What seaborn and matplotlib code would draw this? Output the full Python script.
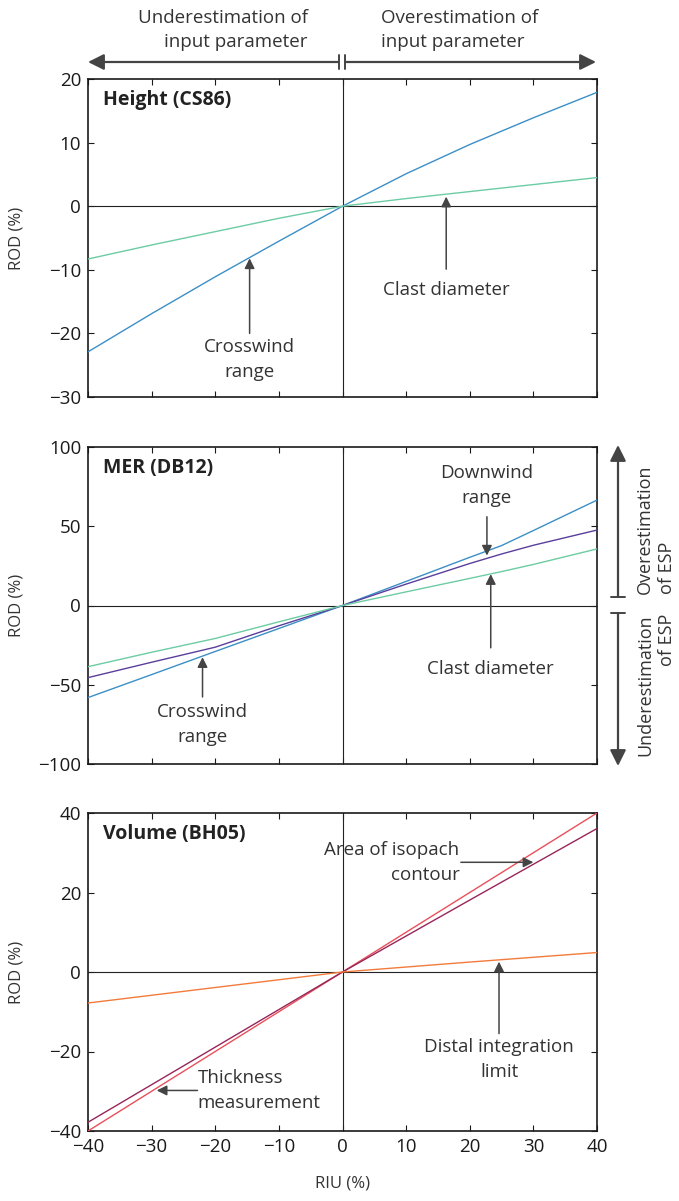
import numpy as np
import pandas as pd
import matplotlib
matplotlib.use("Agg")
import matplotlib.pyplot as plt
import seaborn as sns

# ---- data ----
height_x = [-40, -30, -20, -10, 0, 10, 20, 30, 40]
height_crosswind = [-22.9, -16.9, -11.1, -5.5, 0, 5.1, 9.7, 13.9, 17.9]
height_clast = [-8.3, -6.1, -4.0, -1.9, 0, 1.2, 2.3, 3.4, 4.5]

mer_x = [-40, -30, -20, -10, 0, 10, 20, 25, 30, 40]
mer_crosswind = [-58.1, -43.6, -29.0, -14.5, 0, 15.2, 30.4, 37.8, 47.3, 66.5]
mer_downwind = [-45.5, -35.8, -26.3, -12.8, 0, 13.5, 26.5, 32.5, 38.0, 47.6]
mer_clast = [-38.6, -29.5, -20.8, -10.3, 0, 8.6, 17.1, 21.4, 25.9, 35.7]

vol_x = [-40, -20, 0, 20, 40]
vol_thickness = [-40, -20, 0, 20, 40]
vol_isopach = [-37.8, -18.9, 0, 18.1, 36.1]
vol_distal = [-7.8, -3.9, 0, 2.5, 4.9]

x_ticks = [-40, -30, -20, -10, 0, 10, 20, 30, 40]
panels = ["Height (CS86)", "MER (DB12)", "Volume (BH05)"]
y_limits = [(-30, 20), (-100, 100), (-40, 40)]
y_ticks = [[-30, -20, -10, 0, 10, 20], [-100, -50, 0, 50, 100], [-40, -20, 0, 20, 40]]

BLUE = "#3b8fc6"
GREEN = "#6ccca3"
PURPLE = "#5a3e9c"
RED = "#e8505a"
MAROON = "#982559"
ORANGE = "#f27b3c"
TXT = "#333333"
ARR = "#444444"

sns.set_theme(style="ticks")
plt.rcParams["font.family"] = ["Open Sans", "DejaVu Sans"]

W, H = 679, 1201
fig = plt.figure(figsize=(W / 100, H / 100), dpi=100)


def fx(px):
    return px / W


def fy(py):
    return 1 - py / H


# axes boxes in pixels (left, top, right, bottom)
boxes = [(88, 79, 597, 397), (88, 447, 597, 764), (88, 813, 597, 1131)]
axes = []
for (l, t, r, b) in boxes:
    ax = fig.add_axes([fx(l), fy(b), (r - l) / W, (b - t) / H])
    axes.append(ax)

series = [
    [(height_x, height_crosswind, BLUE), (height_x, height_clast, GREEN)],
    [(mer_x, mer_crosswind, BLUE), (mer_x, mer_downwind, PURPLE), (mer_x, mer_clast, GREEN)],
    [(vol_x, vol_thickness, RED), (vol_x, vol_isopach, MAROON), (vol_x, vol_distal, ORANGE)],
]

for i, ax in enumerate(axes):
    ax.axhline(0, color="#222222", lw=0.8, zorder=1)
    ax.axvline(0, color="#222222", lw=0.8, zorder=1)
    for xs, ys, c in series[i]:
        d = pd.DataFrame({"x": xs, "y": ys})
        sns.lineplot(data=d, x="x", y="y", ax=ax, color=c, lw=1.0, zorder=3)
    ax.set_xlim(-40, 40)
    ax.set_ylim(*y_limits[i])
    ax.set_xticks(x_ticks)
    ax.set_yticks(y_ticks[i])
    ax.tick_params(direction="in", top=True, right=True, length=4, width=0.8,
                   labelsize=13.5, colors="#1a1a1a", pad=5)
    for s in ax.spines.values():
        s.set_linewidth(1.2)
        s.set_color("#1a1a1a")
    ax.set_ylabel("ROD (%)", fontsize=12, color=TXT)
    ax.yaxis.set_label_coords(-0.124, 0.5)
    if i < 2:
        ax.set_xticklabels([])
        ax.set_xlabel("")
    else:
        ax.set_xlabel("RIU (%)", fontsize=12, color=TXT)
        ax.xaxis.set_label_coords(0.5, -0.14)
    ax.text(0.03, 0.935, panels[i], transform=ax.transAxes, fontsize=14,
            fontweight="bold", color="#222222", va="center", ha="left")

ann = dict(fontsize=13.5, color=TXT, linespacing=1.5)
aprops = dict(arrowstyle="-|>", color=ARR, lw=1.1, mutation_scale=15, shrinkA=0, shrinkB=0)

# Height panel
ax = axes[0]
ax.annotate("", xy=(-14.6, -8.2), xytext=(-14.6, -20.0), arrowprops=aprops)
ax.text(-14.6, -24.1, "Crosswind\nrange", ha="center", va="center", **ann)
ax.annotate("", xy=(16.3, 1.5), xytext=(16.3, -9.9), arrowprops=aprops)
ax.text(16.3, -13.1, "Clast diameter", ha="center", va="center", **ann)

# MER panel
ax = axes[1]
ax.annotate("", xy=(22.7, 31.5), xytext=(22.7, 56.0), arrowprops=aprops)
ax.text(22.7, 75.9, "Downwind\nrange", ha="center", va="center", **ann)
ax.annotate("", xy=(23.3, 19.8), xytext=(23.3, -26.7), arrowprops=aprops)
ax.text(23.3, -39.9, "Clast diameter", ha="center", va="center", **ann)
ax.annotate("", xy=(-22.0, -32.6), xytext=(-22.0, -57.7), arrowprops=aprops)
ax.text(-22.0, -74.8, "Crosswind\nrange", ha="center", va="center", **ann)

# Volume panel
ax = axes[2]
ax.annotate("", xy=(30.0, 27.6), xytext=(18.6, 27.6), arrowprops=aprops)
ax.text(18.4, 27.6, "Area of isopach\ncontour", ha="right", va="center",
        multialignment="right", **ann)
ax.annotate("", xy=(24.6, 2.6), xytext=(24.6, -15.5), arrowprops=aprops)
ax.text(24.6, -22.0, "Distal integration\nlimit", ha="center", va="center", **ann)
ax.annotate("", xy=(-29.2, -29.8), xytext=(-22.8, -29.8), arrowprops=aprops)
ax.text(-22.8, -29.7, "Thickness\nmeasurement", ha="left", va="center",
        multialignment="left", **ann)

# top direction arrows
big = dict(arrowstyle="-|>", color=ARR, lw=1.6, mutation_scale=24, shrinkA=0, shrinkB=0)
fig.add_artist(matplotlib.patches.FancyArrowPatch((fx(339), fy(62)), (fx(88), fy(62)),
                                                  transform=fig.transFigure, **big))
fig.add_artist(matplotlib.patches.FancyArrowPatch((fx(345), fy(62)), (fx(596), fy(62)),
                                                  transform=fig.transFigure, **big))
for bx in (339, 345):
    fig.add_artist(matplotlib.lines.Line2D([fx(bx), fx(bx)], [fy(55), fy(69)],
                                           transform=fig.transFigure, color=ARR, lw=1.4))
top = dict(fontsize=13.5, color=TXT, linespacing=1.45, va="center")
fig.text(fx(308), fy(30), "Underestimation of\ninput parameter", ha="right",
         multialignment="right", **top)
fig.text(fx(381), fy(30), "Overestimation of\ninput parameter", ha="left",
         multialignment="left", **top)

# right-hand direction arrows
fig.add_artist(matplotlib.patches.FancyArrowPatch((fx(618), fy(597)), (fx(618), fy(445)),
                                                  transform=fig.transFigure, **big))
fig.add_artist(matplotlib.patches.FancyArrowPatch((fx(618), fy(613)), (fx(618), fy(766)),
                                                  transform=fig.transFigure, **big))
for by in (597, 613):
    fig.add_artist(matplotlib.lines.Line2D([fx(611), fx(625)], [fy(by), fy(by)],
                                           transform=fig.transFigure, color=ARR, lw=1.4))
side = dict(fontsize=13, color=TXT, linespacing=1.3, rotation=90, ha="center")
fig.text(fx(656), fy(594), "Overestimation\nof ESP", va="bottom",
         multialignment="left", **side)
fig.text(fx(656), fy(614), "Underestimation\nof ESP", va="top",
         multialignment="right", **side)

fig.savefig("out.png", dpi=100)
